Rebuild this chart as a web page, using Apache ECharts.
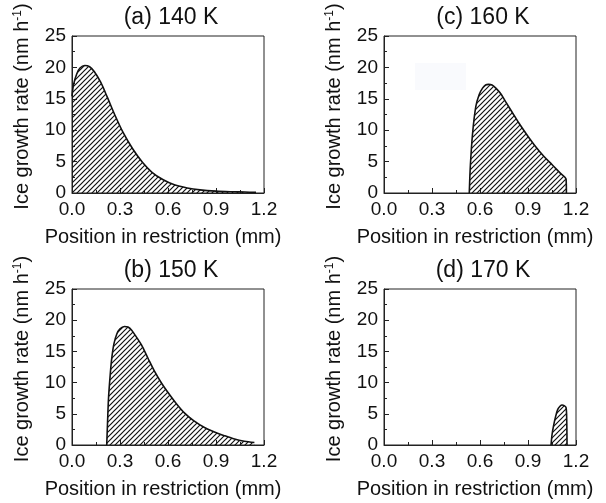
<!DOCTYPE html>
<html><head><meta charset="utf-8">
<script src="https://cdn.jsdelivr.net/npm/echarts@6/dist/echarts.min.js"></script>
<style>html,body{margin:0;padding:0;background:#fff}#c{width:606px;height:503px}</style>
</head><body><div id="c"></div>
<script>
// ---- data ----
const panelTitles = ['(a) 140 K', '(b) 150 K', '(c) 160 K', '(d) 170 K'];
const xTickLabels = ['0.0', '0.3', '0.6', '0.9', '1.2'];
const yTickLabels = ['0', '5', '10', '15', '20', '25'];
const xA = [0, 0.01, 0.03, 0.05, 0.08, 0.11, 0.14, 0.18, 0.22, 0.27, 0.32, 0.38, 0.44, 0.50, 0.57, 0.64, 0.72, 0.80, 0.90, 1.00, 1.08, 1.15];
const yA = [15.4, 17.3, 19.0, 19.9, 20.3, 20.1, 19.3, 17.6, 15.3, 12.3, 9.6, 7.0, 4.9, 3.3, 2.1, 1.3, 0.8, 0.5, 0.3, 0.2, 0.15, 0.1];
const xB = [0.217, 0.222, 0.228, 0.238, 0.248, 0.262, 0.280, 0.30, 0.327, 0.35, 0.373, 0.40, 0.435, 0.475, 0.518, 0.56, 0.60, 0.65, 0.704, 0.76, 0.828, 0.89, 0.952, 1.01, 1.077, 1.14];
const yB = [0, 3.5, 7.4, 11.0, 13.8, 16.2, 17.8, 18.6, 19.0, 18.9, 18.4, 17.4, 16.0, 13.9, 11.7, 9.9, 8.4, 6.7, 5.1, 3.9, 2.8, 2.1, 1.5, 1.0, 0.6, 0.4];
const xC = [0.533, 0.540, 0.554, 0.574, 0.595, 0.616, 0.635, 0.653, 0.675, 0.699, 0.73, 0.761, 0.80, 0.844, 0.895, 0.947, 1.00, 1.051, 1.10, 1.138, 1.14];
const yC = [0, 4.5, 9.6, 13.8, 15.7, 16.7, 17.2, 17.3, 17.2, 16.7, 15.8, 14.5, 12.9, 11.1, 9.2, 7.4, 5.8, 4.5, 3.2, 2.2, 0];
const xD = [1.044, 1.050, 1.059, 1.072, 1.086, 1.100, 1.113, 1.126, 1.138, 1.142, 1.144];
const yD = [0, 1.6, 3.0, 4.5, 5.7, 6.2, 6.4, 6.3, 6.0, 4.0, 0];
const xName = 'Position in restriction (mm)';
const yName = 'Ice growth rate (nm h{sup|-1})';

// ---- layout ----
const FONT = "'Liberation Sans', Arial, sans-serif";
const grids = [
  {left: 72, top: 36, width: 192, height: 157},
  {left: 72, top: 289, width: 192, height: 156},
  {left: 384, top: 36, width: 192, height: 157},
  {left: 384, top: 289, width: 192, height: 156}
];
const seriesData = [[xA, yA], [xB, yB], [xC, yC], [xD, yD]];

function hatch() {
  const c = document.createElement('canvas');
  c.width = 5; c.height = 5;
  const g = c.getContext('2d');
  g.strokeStyle = '#111'; g.lineWidth = 1.2;
  g.beginPath();
  g.moveTo(0, 5); g.lineTo(5, 0);
  g.moveTo(-1, 1); g.lineTo(1, -1);
  g.moveTo(4, 6); g.lineTo(6, 4);
  g.stroke();
  return c;
}
const pat = hatch();

const option = {
  backgroundColor: '#fff',
  animation: false,
  title: grids.map((g, i) => ({
    text: panelTitles[i], left: g.left + g.width / 2 - 2, top: g.top - 35, textAlign: 'center',
    textStyle: {fontFamily: FONT, fontSize: 23, fontWeight: 'normal', color: '#111'}
  })),
  grid: grids.map(g => Object.assign({show: true, borderColor: '#222', borderWidth: 1, backgroundColor: 'transparent'}, g)),
  xAxis: grids.map((g, i) => ({
    type: 'value', gridIndex: i, min: 0, max: 1.2, interval: 0.3,
    name: xName, nameLocation: 'middle', nameGap: 34,
    nameTextStyle: {fontFamily: FONT, fontSize: 20, color: '#111', padding: [0, 10, 0, 0]},
    axisLine: {show: true, lineStyle: {color: '#222', width: 1}},
    axisTick: {show: true, inside: true, length: 5, lineStyle: {color: '#222'}},
    minorTick: {show: true, splitNumber: 2, length: 3, lineStyle: {color: '#222'}},
    splitLine: {show: false},
    axisLabel: {margin: 7, fontFamily: FONT, fontSize: 19, color: '#111',
      formatter: v => xTickLabels[Math.round(v / 0.3)]}
  })),
  yAxis: grids.map((g, i) => ({
    type: 'value', gridIndex: i, min: 0, max: 25, interval: 5,
    name: yName, nameLocation: 'middle', nameGap: 40,
    nameTextStyle: {fontFamily: FONT, fontSize: 20, color: '#111', padding: [0, 0, 0, 16],
      rich: {sup: {fontFamily: FONT, fontSize: 12, color: '#111', verticalAlign: 'top', padding: [0, 0, 8, 0]}}},
    axisLine: {show: true, lineStyle: {color: '#222', width: 1}},
    axisTick: {show: true, inside: true, length: 5, lineStyle: {color: '#222'}},
    minorTick: {show: true, splitNumber: 2, length: 3, lineStyle: {color: '#222'}},
    splitLine: {show: false},
    axisLabel: {margin: 6, fontFamily: FONT, fontSize: 19, color: '#111',
      formatter: v => yTickLabels[Math.round(v / 5)]}
  })),
  graphic: [{type: 'rect', shape: {x: 415, y: 63, width: 51, height: 27}, style: {fill: '#f9fafd'}, z: -1}],
  series: seriesData.map((d, i) => ({
    type: 'line', xAxisIndex: i, yAxisIndex: i,
    data: d[0].map((x, k) => [x, d[1][k]]),
    showSymbol: false, smooth: 0.3,
    lineStyle: {color: '#111', width: 1.6},
    areaStyle: {color: {image: pat, repeat: 'repeat'}, opacity: 1}
  }))
};
const chart = echarts.init(document.getElementById('c'), null, {renderer: 'canvas'});
chart.setOption(option);
</script>
</body></html>
